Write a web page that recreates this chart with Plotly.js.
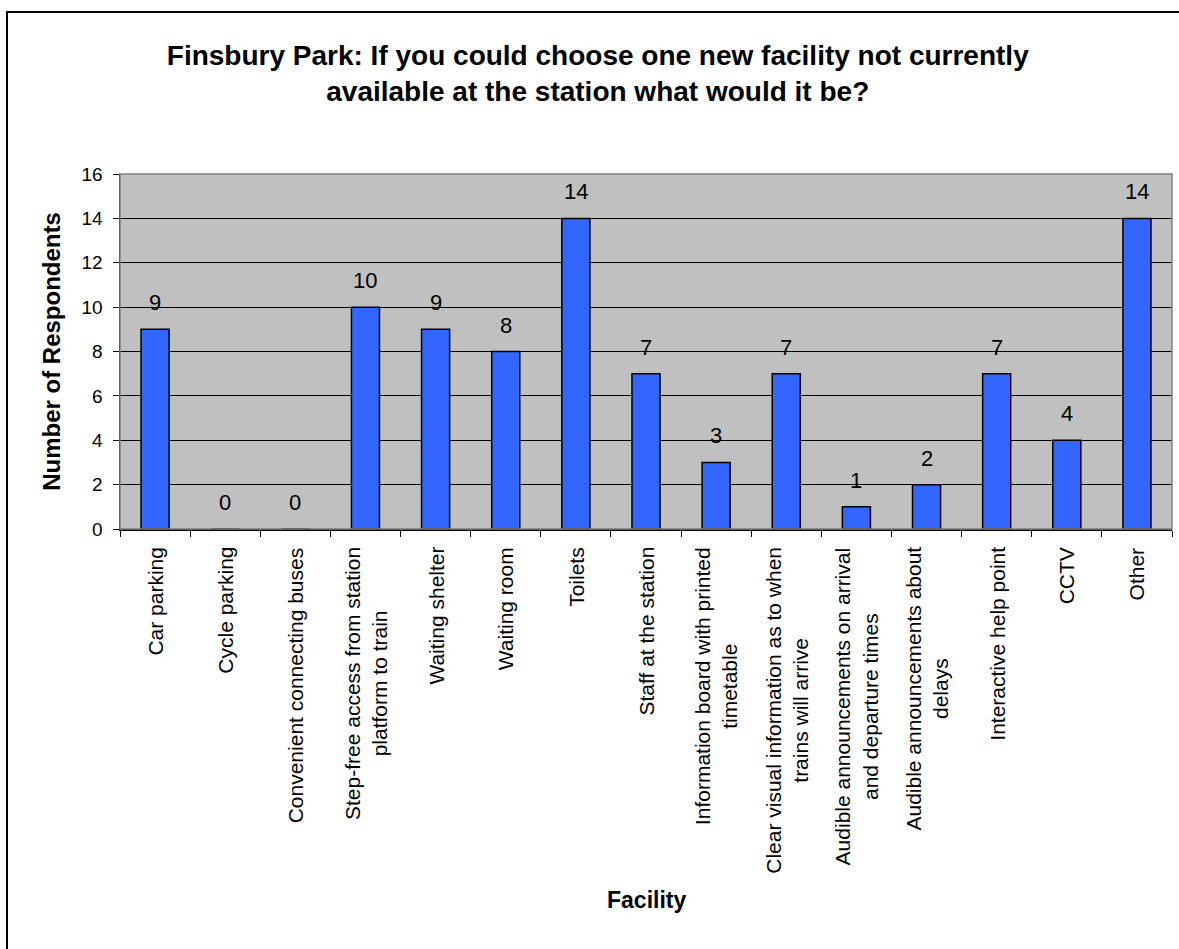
<!DOCTYPE html>
<html>
<head>
<meta charset="utf-8">
<script src="https://cdn.plot.ly/plotly-3.0.1.min.js"></script>
<style>
html,body{margin:0;padding:0;background:#fff;overflow:hidden;}
#wrap{position:relative;width:1179px;height:949px;}
#chart{position:absolute;left:0;top:0;width:1179px;height:949px;}
#frame{position:absolute;left:6px;top:11px;width:1300px;height:1100px;border:2px solid #000;pointer-events:none;}
</style>
</head>
<body>
<div id="wrap"><div id="chart"></div><div id="frame"></div></div>
<script>
const categories = [
  "Car parking",
  "Cycle parking",
  "Convenient connecting buses",
  "Step-free access from station<br>platform to train",
  "Waiting shelter",
  "Waiting room",
  "Toilets",
  "Staff at the station",
  "Information board with printed<br>timetable",
  "Clear visual information as to when<br>trains will arrive",
  "Audible announcements on arrival<br>and departure times",
  "Audible announcements about<br>delays",
  "Interactive help point",
  "CCTV",
  "Other"
];
const respondents = [9, 0, 0, 10, 9, 8, 14, 7, 3, 7, 1, 2, 7, 4, 14];
const yTicks = [0, 2, 4, 6, 8, 10, 12, 14, 16];

const FONT = "Arial, 'Liberation Sans', sans-serif";

const trace = {
  type: "bar",
  x: categories,
  y: respondents,
  width: 0.4,
  marker: {color: "#3366FF", line: {color: "#000000", width: 1.5}},
  hoverinfo: "x+y"
};

const annotations = [];
categories.forEach((c, i) => {
  annotations.push({
    xref: "x", yref: "paper", x: c, y: 0,
    text: c, showarrow: false, textangle: -90,
    xanchor: "center", yanchor: "top", align: "center",
    yshift: -16,
    font: {family: FONT, size: 21, color: "#000"}
  });
  annotations.push({
    xref: "x", yref: "y", x: c, y: respondents[i],
    text: String(respondents[i]), showarrow: false,
    xanchor: "center", yanchor: "bottom", yshift: 12,
    font: {family: FONT, size: 22, color: "#000"}
  });
});
annotations.push({
  xref: "paper", yref: "paper", x: 0.5, y: -1.045,
  text: "<b>Facility</b>", showarrow: false,
  xanchor: "center", yanchor: "middle",
  font: {family: FONT, size: 23, color: "#000"}
});

const layout = {
  width: 1179, height: 949,
  margin: {l: 120, r: 7, t: 174, b: 420, pad: 0},
  paper_bgcolor: "#ffffff",
  plot_bgcolor: "#C0C0C0",
  showlegend: false,
  bargap: 0.6,
  title: {
    text: "<b>Finsbury Park: If you could choose one new facility not currently<br>available at the station what would it be?</b>",
    font: {family: FONT, size: 28, color: "#000"},
    x: 0.507, xref: "container", xanchor: "center",
    y: 0.932, yref: "container", yanchor: "top"
  },
  xaxis: {
    type: "category",
    tickson: "boundaries",
    ticks: "outside", ticklen: 6, tickcolor: "#000", tickwidth: 1,
    showticklabels: false,
    showline: true, linecolor: "#000", linewidth: 1.5,
    showgrid: false, zeroline: false
  },
  yaxis: {
    range: [0, 16],
    tickvals: yTicks,
    ticks: "outside", ticklen: 6, tickcolor: "#000", tickwidth: 1,
    tickfont: {family: FONT, size: 19, color: "#000"},
    ticklabelstandoff: 6,
    showline: true, linecolor: "#000", linewidth: 1.5,
    showgrid: true, gridcolor: "#000", gridwidth: 1,
    zeroline: false,
    title: {text: "<b>Number of Respondents</b>", font: {family: FONT, size: 24, color: "#000"}, standoff: 14}
  },
  shapes: [
    {type: "rect", xref: "paper", yref: "paper", x0: 0, x1: 1, y0: 0, y1: 1,
     line: {color: "#808080", width: 1.5}, fillcolor: "rgba(0,0,0,0)", layer: "above"}
  ],
  annotations: annotations
};

Plotly.newPlot("chart", [trace], layout, {displayModeBar: false, staticPlot: true});
</script>
</body>
</html>
